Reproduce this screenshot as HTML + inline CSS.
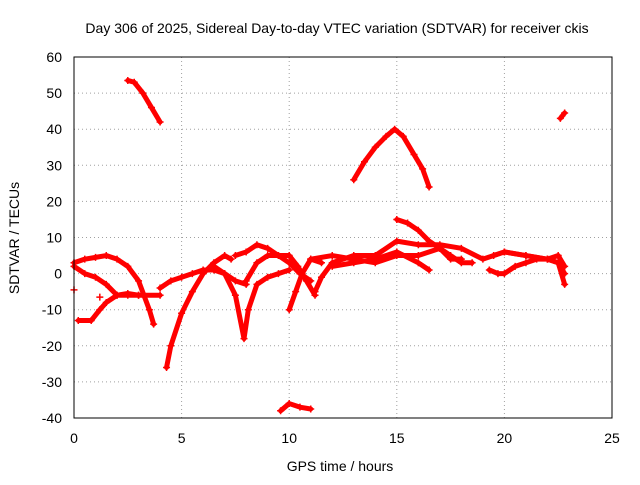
<!DOCTYPE html>
<html><head><meta charset="utf-8"><style>
body{margin:0;background:#fff;width:640px;height:480px;overflow:hidden}
svg text{font-family:"Liberation Sans",sans-serif;font-size:14px;fill:#000}
</style></head><body>
<svg id="chart" width="640" height="480">
<text x="337" y="33" text-anchor="middle">Day 306 of 2025, Sidereal Day-to-day VTEC variation (SDTVAR) for receiver ckis</text>
<text x="340" y="471" text-anchor="middle">GPS time / hours</text>
<text transform="translate(19,238) rotate(-90)" text-anchor="middle">SDTVAR / TECUs</text>
<g id="grid"></g><g id="ticks"></g><g id="series"></g>
<rect x="74" y="57" width="538" height="361" fill="none" stroke="#000" stroke-width="1"/>
</svg>
<script>
const xTicks=[0,5,10,15,20,25];
const yTicks=[60,50,40,30,20,10,0,-10,-20,-30,-40];
const track1=[[2.5,53.5],[2.8,53],[3.2,50],[3.6,46],[4.0,42]];
const track2=[[13,26],[13.5,31],[14,35],[14.5,38],[14.9,40],[15.3,38],[15.8,33],[16.2,29],[16.5,24]];
const track3=[[22.6,43],[22.8,44.5]];
const track4=[[9.6,-38],[10,-36],[10.5,-37],[11,-37.5]];
const track5=[[0,3],[0.5,4],[1,4.5],[1.5,5],[2,4],[2.5,2],[3,-2],[3.5,-10],[3.7,-14]];
const track6=[[0.2,-13],[0.8,-13],[1.2,-10],[1.5,-8],[2,-6],[2.5,-5.5],[3,-6],[4,-6]];
const track7=[[0,2],[0.5,0],[1,-1],[1.5,-3],[2,-6],[2.5,-6],[3,-6]];
const track8=[[4.3,-26],[4.5,-20],[5,-11],[5.5,-5],[6,0],[6.5,3],[7,5],[7.3,4]];
const track9=[[4,-4],[4.5,-2],[5,-1],[5.5,0],[6,1],[6.5,1],[7,0],[7.5,-2],[8,-3]];
const track10=[[6.5,2],[7,0],[7.5,-6],[7.9,-18],[8.1,-10],[8.5,-3],[9,-1],[9.5,0],[10,1]];
const track11=[[7.5,5],[8,6],[8.5,8],[9,7],[9.5,5],[10,3],[10.5,0],[11,-2]];
const track12=[[8,-2],[8.5,3],[9,5],[9.5,5],[10,5],[10.4,2],[10.8,-2],[11.2,-6]];
const track13=[[10,-10],[10.3,-5],[10.6,0],[11,4],[11.5,3]];
const track14=[[11.2,-5],[11.5,-1],[12,3],[13,5],[14,5],[15,9],[16,8],[17,8],[18,7],[19,4],[20,6],[21,5],[22,4],[22.5,3],[22.8,0]];
const track15=[[11,4],[12,5],[13,4],[14,3],[15,5],[16,5],[17,7],[17.5,5],[18,3],[18.5,3]];
const track16=[[15,15],[15.5,14],[16,12],[16.5,9],[17,7],[17.5,4],[18,4]];
const track17=[[12,2],[13,3],[14,4],[15,6],[16,3],[16.5,1]];
const track18=[[19.3,1],[19.7,0],[20,0],[20.5,2],[21,3],[21.5,4],[22,4],[22.5,3],[22.8,-3]];
const track19=[[19.5,5],[20,6],[21,5],[22,4],[22.5,5],[22.8,2]];
const track20=[[0,-4.5]];
const track21=[[1.2,-6.5]];
const tracks=[track1,track2,track3,track4,track5,track6,track7,track8,track9,track10,track11,track12,track13,track14,track15,track16,track17,track18,track19,track20,track21];

const NS="http://www.w3.org/2000/svg";
const X0=74,X1=612,Y0=418,Y1=57;
function sx(v){return X0+(v-0)/(25-0)*(X1-X0);}
function sy(v){return Y0-(v+40)/(100)*(Y0-Y1);}
const grid=document.getElementById('grid'),ticks=document.getElementById('ticks'),ser=document.getElementById('series');
xTicks.forEach(t=>{
  const x=sx(t);
  if(t>0&&t<25){const l=document.createElementNS(NS,'line');
  l.setAttribute('x1',x);l.setAttribute('x2',x);l.setAttribute('y1',Y1);l.setAttribute('y2',Y0);
  l.setAttribute('stroke','#a0a0a0');l.setAttribute('stroke-dasharray','1,3');
  
  
  grid.appendChild(l);}
  const tx=document.createElementNS(NS,'text');tx.setAttribute('x',x);tx.setAttribute('y',443);tx.setAttribute('text-anchor','middle');tx.textContent=t;
  
  
  ticks.appendChild(tx);
});
yTicks.forEach(t=>{
  const y=sy(t);
  if(t>-40&&t<60){const l=document.createElementNS(NS,'line');
  l.setAttribute('x1',X0);l.setAttribute('x2',X1);l.setAttribute('y1',y);l.setAttribute('y2',y);
  l.setAttribute('stroke','#a0a0a0');l.setAttribute('stroke-dasharray','1,3');
  
  
  grid.appendChild(l);}
  const tx=document.createElementNS(NS,'text');tx.setAttribute('x',62);tx.setAttribute('y',y+5);tx.setAttribute('text-anchor','end');tx.textContent=t;
  
  
  ticks.appendChild(tx);
});
tracks.forEach((tr,i)=>{
  const g=document.createElementNS(NS,'g');
  
  
  if(tr.length>1){const p=document.createElementNS(NS,'polyline');
  p.setAttribute('points',tr.map(d=>sx(d[0])+','+sy(d[1])).join(' '));
  p.setAttribute('fill','none');p.setAttribute('stroke','#f00');p.setAttribute('stroke-width','5');p.setAttribute('stroke-linejoin','round');p.setAttribute('stroke-linecap','round');
  g.appendChild(p);}
  tr.forEach(d=>{const m=document.createElementNS(NS,'path');const x=sx(d[0]),y=sy(d[1]);
    m.setAttribute('d',`M${x-3.5},${y}H${x+3.5}M${x},${y-3.5}V${y+3.5}`);m.setAttribute('stroke','#f00');m.setAttribute('stroke-width','1.5');
    
    
    g.appendChild(m);});
  ser.appendChild(g);
});
</script>
</body></html>
